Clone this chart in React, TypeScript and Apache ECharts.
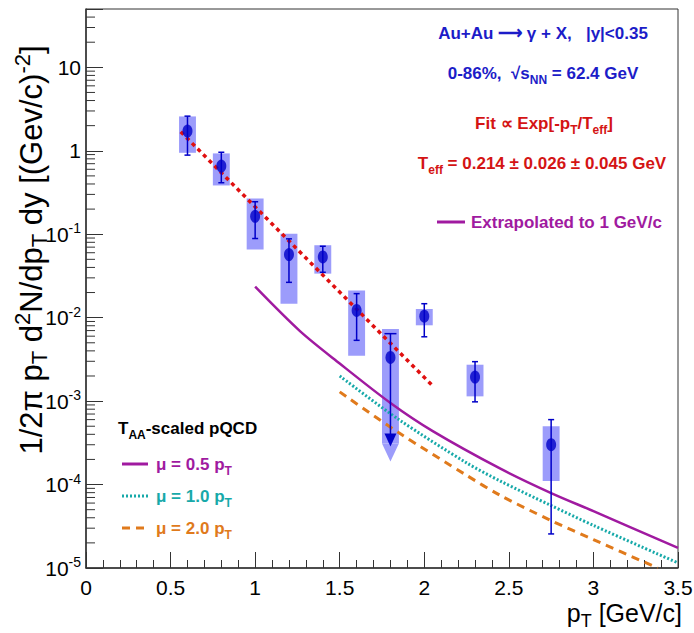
import React, { useEffect, useRef } from 'react';
import * as echarts from 'echarts';

// ---- data ----
const pT = [0.6, 0.8, 1.0, 1.2, 1.4, 1.6, 1.8, 2.0, 2.3, 2.75];
const yieldVal = [1.72, 0.655, 0.164, 0.057, 0.0535, 0.0122, 0.00334, 0.0104, 0.00194, 3.0e-4];
const statHi = [2.6, 0.96, 0.245, 0.088, 0.0718, 0.0194, 0.00643, 0.0147, 0.00297, 6.0e-4];
const statLo = [0.887, 0.414, 0.0888, 0.0265, 0.035, 0.00535, 2.86e-4, 0.0059, 0.00098, 2.56e-5];
const sysHi = [2.58, 0.93, 0.268, 0.101, 0.0738, 0.0211, 0.0073, 0.0127, 0.00273, 5.0e-4];
const sysLo = [0.946, 0.384, 0.0655, 0.0147, 0.0337, 0.0035, 3.1e-4, 0.0081, 0.00114, 1.1e-4];
const upperLimit = [false, false, false, false, false, false, true, false, false, false];

const fitX = [0.56, 2.05];
const fitY = [1.69, 1.52e-3];

const mu05X = [1.0, 1.265, 1.5, 1.8, 2.05, 2.45, 2.75, 3.0, 3.5];
const mu05Y = [0.0235, 6.9e-3, 2.82e-3, 9.5e-4, 4.37e-4, 1.55e-4, 7.9e-5, 4.8e-5, 1.74e-5];
const mu10X = [1.5, 1.85, 2.25, 2.45, 2.75, 3.0, 3.5];
const mu10Y = [2.0e-3, 6.0e-4, 1.82e-4, 1.1e-4, 5.6e-5, 3.24e-5, 1.15e-5];
const mu20X = [1.5, 1.85, 2.25, 2.45, 2.75, 3.0, 3.38];
const mu20Y = [1.29e-3, 4.17e-4, 1.29e-4, 7.4e-5, 3.7e-5, 2.19e-5, 1.0e-5];

const xMin = 0;
const xMax = 3.5;
const xInterval = 0.5;
const yMin = 1e-5;
const yMax = 50;
const minorMultipliers = [2, 3, 4, 5, 6, 7, 8, 9];
const decades = [-5, -4, -3, -2, -1, 0, 1];

const yTitle = '{n|1/2\u03C0 p}{sub|T}{n| d}{sup|2}{n|N/dp}{sub|T}{n| dy [(Gev/c)}{sup|-2}{n|]}';
const xTitle = '{n|p}{sub|T}{n| [GeV/c]}';

// ---- styles ----
const FONT = "'Liberation Sans', Arial, Helvetica, sans-serif";
const BLUE_TXT = '#1c1cc8';
const RED = '#d41414';
const PURPLE = '#a01aa0';
const TEAL = '#17a9a9';
const ORANGE = '#e07a1c';
const MARK = '#0000c8';
const BOX = '#9c9cfb';
const AXIS = '#333333';
const BOX_HALF = 0.05;

const zip = (xs: number[], ys: number[]) => xs.map((x, i) => [x, ys[i]]);

function richSet(size: number, color: string, weight: string) {
  const main = size + 8;
  return {
    n: { fontSize: size, fontWeight: weight, fontFamily: FONT, color, fill: color, lineHeight: main },
    sub: { fontSize: Math.round(size * 0.7), fontWeight: weight, fontFamily: FONT, color, fill: color, lineHeight: 10, verticalAlign: 'bottom' },
    sup: { fontSize: Math.round(size * 0.7), fontWeight: weight, fontFamily: FONT, color, fill: color, lineHeight: 10, verticalAlign: 'top' },
  } as any;
}

function textEl(x: number, y: number, text: string, size: number, color: string, align: string, weight = 'bold', rotation = 0) {
  return {
    type: 'text',
    x,
    y,
    rotation,
    silent: true,
    style: {
      text,
      rich: richSet(size, color, weight),
      fill: color,
      fontSize: size,
      fontWeight: weight,
      fontFamily: FONT,
      align,
      textAlign: align,
      verticalAlign: 'middle',
      textVerticalAlign: 'middle',
    },
  };
}

function lineEl(x1: number, x2: number, y: number, color: string, dash?: number[]) {
  return {
    type: 'line',
    silent: true,
    shape: { x1, y1: y, x2, y2: y },
    style: { stroke: color, lineWidth: 3, lineDash: dash || null },
  };
}

export default function App() {
  const ref = useRef<HTMLDivElement>(null);

  useEffect(() => {
    if (!ref.current) return;
    const chart = echarts.init(ref.current, undefined, { renderer: 'svg' });

    const minorVals: number[][] = [];
    decades.forEach((d) => {
      minorMultipliers.forEach((m) => {
        const v = m * Math.pow(10, d);
        if (v < yMax) minorVals.push([xMin, v]);
      });
    });

    const sysData = pT.map((p, i) => [p, sysLo[i], sysHi[i], upperLimit[i] ? 1 : 0]);
    const statData = pT.map((p, i) => [p, statLo[i], statHi[i], upperLimit[i] ? 1 : 0]);

    const yRich = {
      b: { fontSize: 21, fontFamily: FONT, color: '#000', lineHeight: 26 },
      s: { fontSize: 14, fontFamily: FONT, color: '#000', lineHeight: 12, verticalAlign: 'top' },
    } as any;

    const option: any = {
      animation: false,
      backgroundColor: '#ffffff',
      grid: {
        left: 86, right: 16, top: 9, bottom: 65,
        containLabel: false,
        outerBoundsMode: 'none',
        show: true, borderColor: AXIS, borderWidth: 1, backgroundColor: 'transparent',
      },
      xAxis: {
        type: 'value',
        min: xMin,
        max: xMax,
        interval: xInterval,
        axisLine: { show: true, lineStyle: { color: AXIS, width: 1.5 } },
        axisTick: { show: true, inside: true, length: 16, lineStyle: { color: AXIS, width: 1 } },
        minorTick: { show: true, splitNumber: 5, length: 8, lineStyle: { color: AXIS, width: 1 } },
        splitLine: { show: false },
        axisLabel: {
          fontSize: 21,
          fontFamily: FONT,
          color: '#000',
          margin: 9,
          showMinLabel: true,
          showMaxLabel: true,
          formatter: (v: number) => String(Math.round(v * 10) / 10),
        },
      },
      yAxis: {
        type: 'log',
        logBase: 10,
        min: yMin,
        max: yMax,
        axisLine: { show: true, lineStyle: { color: AXIS, width: 1.5 } },
        axisTick: { show: true, inside: true, length: 17, lineStyle: { color: AXIS, width: 1 } },
        splitLine: { show: false },
        axisLabel: {
          margin: 5,
          rich: yRich,
          formatter: (v: number) => {
            const e = Math.round(Math.log10(v));
            if (Math.abs(Math.log10(v) - e) > 0.01) return '';
            if (e === 0) return '{b|1}';
            if (e === 1) return '{b|10}';
            return '{b|10}{s|' + e + '}';
          },
        },
      },
      graphic: [
        textEl(543, 33, 'Au+Au \u27F6 \u03B3 + X,   |y|<0.35', 17, BLUE_TXT, 'center'),
        textEl(543, 73, '{n|0-86%,  \u221As}{sub|NN}{n| = 62.4 GeV}', 17, BLUE_TXT, 'center'),
        textEl(544, 123, '{n|Fit \u221D Exp[-p}{sub|T}{n|/T}{sub|eff}{n|]}', 17, RED, 'center'),
        textEl(542, 163, '{n|T}{sub|eff}{n| = 0.214 \u00B1 0.026 \u00B1 0.045 GeV}', 17, RED, 'center'),
        lineEl(437, 465, 222, PURPLE),
        textEl(471, 222, 'Extrapolated to 1 GeV/c', 17, PURPLE, 'left'),
        textEl(118, 428, '{n|T}{sub|AA}{n|-scaled pQCD}', 17, '#000', 'left'),
        lineEl(122, 148, 464, PURPLE),
        textEl(156, 464, '{n|\u03BC = 0.5 p}{sub|T}', 17, PURPLE, 'left'),
        lineEl(122, 148, 496, TEAL, [2, 2]),
        textEl(156, 496, '{n|\u03BC = 1.0 p}{sub|T}', 17, TEAL, 'left'),
        lineEl(122, 148, 528, ORANGE, [8, 6]),
        textEl(156, 528, '{n|\u03BC = 2.0 p}{sub|T}', 17, ORANGE, 'left'),
        textEl(682, 613, xTitle, 25, '#000', 'right', 'normal'),
        textEl(31, 250, yTitle, 31, '#000', 'center', 'normal', Math.PI / 2),
      ],
      series: [
        {
          name: 'minor y ticks',
          type: 'custom',
          silent: true,
          z: 1,
          data: minorVals,
          renderItem: (params: any, api: any) => {
            const c = api.coord([api.value(0), api.value(1)]);
            return {
              type: 'line',
              shape: { x1: c[0], y1: c[1], x2: c[0] + 9, y2: c[1] },
              style: { stroke: AXIS, lineWidth: 1 },
            };
          },
        },
        {
          name: 'sys',
          type: 'custom',
          silent: true,
          z: 2,
          data: sysData,
          renderItem: (params: any, api: any) => {
            const x = api.value(0);
            const tl = api.coord([x - BOX_HALF, api.value(2)]);
            const br = api.coord([x + BOX_HALF, api.value(1)]);
            const children: any[] = [
              {
                type: 'rect',
                shape: { x: tl[0], y: tl[1], width: br[0] - tl[0], height: br[1] - tl[1] },
                style: { fill: BOX },
              },
            ];
            if (api.value(3)) {
              children.push({
                type: 'polygon',
                shape: { points: [[tl[0], br[1]], [br[0], br[1]], [(tl[0] + br[0]) / 2, br[1] + 18]] },
                style: { fill: BOX },
              });
            }
            return { type: 'group', children };
          },
        },
        {
          name: 'fit',
          type: 'line',
          silent: true,
          z: 3,
          data: zip(fitX, fitY),
          symbol: 'none',
          lineStyle: { color: '#e01010', width: 3.5, type: [4, 4] },
        },
        {
          name: 'mu05',
          type: 'line',
          silent: true,
          z: 3,
          data: zip(mu05X, mu05Y),
          symbol: 'none',
          smooth: 0.3,
          lineStyle: { color: PURPLE, width: 2.5 },
        },
        {
          name: 'mu10',
          type: 'line',
          silent: true,
          z: 3,
          data: zip(mu10X, mu10Y),
          symbol: 'none',
          smooth: 0.3,
          lineStyle: { color: TEAL, width: 3, type: [2, 2] },
        },
        {
          name: 'mu20',
          type: 'line',
          silent: true,
          z: 3,
          data: zip(mu20X, mu20Y),
          symbol: 'none',
          smooth: 0.3,
          lineStyle: { color: ORANGE, width: 3, type: [8, 6] },
        },
        {
          name: 'stat',
          type: 'custom',
          silent: true,
          z: 4,
          data: statData,
          renderItem: (params: any, api: any) => {
            const x = api.value(0);
            const hi = api.coord([x, api.value(2)]);
            const lo = api.coord([x, api.value(1)]);
            const limit = api.value(3);
            const st = { stroke: MARK, lineWidth: 1.5 };
            const children: any[] = [];
            if (limit) {
              children.push({ type: 'line', shape: { x1: hi[0], y1: hi[1], x2: lo[0], y2: lo[1] - 12 }, style: st });
              children.push({ type: 'line', shape: { x1: hi[0] - 6, y1: hi[1], x2: hi[0] + 6, y2: hi[1] }, style: st });
              children.push({
                type: 'polygon',
                shape: { points: [[lo[0] - 6, lo[1] - 13], [lo[0] + 6, lo[1] - 13], [lo[0], lo[1]]] },
                style: { fill: MARK },
              });
            } else {
              children.push({ type: 'line', shape: { x1: hi[0], y1: hi[1], x2: lo[0], y2: lo[1] }, style: st });
              children.push({ type: 'line', shape: { x1: hi[0] - 3, y1: hi[1], x2: hi[0] + 3, y2: hi[1] }, style: st });
              children.push({ type: 'line', shape: { x1: lo[0] - 3, y1: lo[1], x2: lo[0] + 3, y2: lo[1] }, style: st });
            }
            return { type: 'group', children };
          },
        },
        {
          name: 'data',
          type: 'scatter',
          silent: true,
          z: 5,
          data: zip(pT, yieldVal),
          symbol: 'circle',
          symbolSize: [10, 13],
          itemStyle: { color: MARK },
        },
      ],
    };

    chart.setOption(option);
    return () => chart.dispose();
  }, []);

  return (
    <div
      ref={ref}
      style={{ position: 'fixed', left: 0, top: 0, width: 694, height: 633, background: '#fff' }}
    />
  );
}
